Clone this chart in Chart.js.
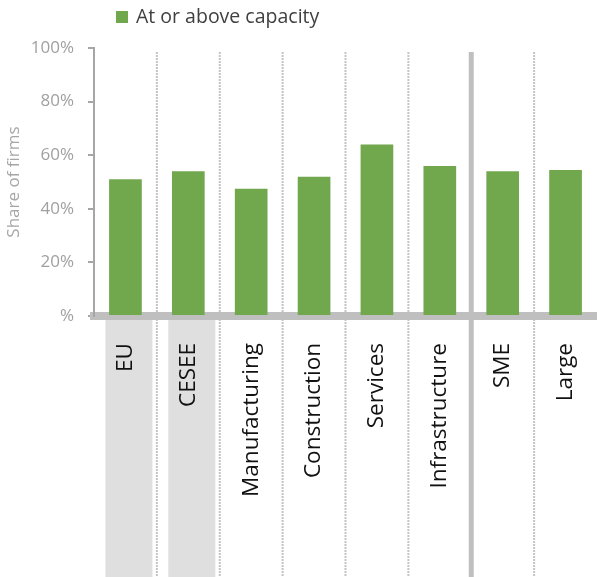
<!DOCTYPE html>
<html lang="en">
<head>
    <meta charset="UTF-8">
    <title>Share of firms at or above capacity</title>
    <script src="https://cdn.jsdelivr.net/npm/chart.js"></script>
    <style>
        html, body { margin: 0; padding: 0; background: #fff; }
        #wrap { width: 597px; height: 577px; }
    </style>
</head>
<body>
    <div id="wrap"><canvas id="myChart" width="597" height="577"></canvas></div>
    <script>
        // données
        var categories = ['EU', 'CESEE', 'Manufacturing', 'Construction', 'Services', 'Infrastructure', 'SME', 'Large'];
        var atOrAboveCapacity = [51, 54, 47.5, 52, 64, 56, 54, 54.5];
        var seriesLabel = 'At or above capacity';
        var yTitle = 'Share of firms';
        var shadedCategories = ['EU', 'CESEE'];
        var solidAfter = 'Infrastructure';

        var green = '#71a84e';
        var fontName = "'Open Sans', 'Noto Sans', sans-serif";

        // separateurs verticaux et fonds gris derriere EU / CESEE
        var separators = {
            id: 'separators',
            beforeDraw: function(chart) {
                var ctx = chart.ctx;
                var x = chart.scales.x;
                var bottom = chart.height;
                ctx.save();
                shadedCategories.forEach(function(c) {
                    var px = x.getPixelForValue(categories.indexOf(c));
                    ctx.fillStyle = '#dfdfdf';
                    ctx.fillRect(px - 20, chart.chartArea.bottom + 4, 47, bottom);
                });
                for (var i = 0; i < categories.length - 1; i++) {
                    var bx = (x.getPixelForValue(i) + x.getPixelForValue(i + 1)) / 2;
                    ctx.beginPath();
                    if (categories[i] === solidAfter) {
                        ctx.setLineDash([]);
                        ctx.lineWidth = 5;
                        ctx.strokeStyle = '#bfbfbf';
                    } else {
                        ctx.setLineDash([2, 1]);
                        ctx.lineWidth = 2;
                        ctx.strokeStyle = '#c4c4c4';
                    }
                    ctx.moveTo(bx, chart.chartArea.top + 4);
                    ctx.lineTo(bx, bottom);
                    ctx.stroke();
                }
                ctx.restore();
            }
        };

        // legende dessinee a la main (position fixe)
        var legendBox = {
            id: 'legendBox',
            afterDraw: function(chart) {
                var ctx = chart.ctx;
                ctx.save();
                ctx.fillStyle = green;
                ctx.fillRect(116, 11, 12, 12);
                ctx.fillStyle = '#404040';
                ctx.font = '19.5px ' + fontName;
                ctx.textBaseline = 'middle';
                ctx.fillText(seriesLabel, 136, 17);
                ctx.restore();
            }
        };

        var ctx = document.getElementById('myChart').getContext('2d');
        var myChart = new Chart(ctx, {
            type: 'bar',
            data: {
                labels: categories,
                datasets: [{
                    label: seriesLabel,
                    data: atOrAboveCapacity,
                    backgroundColor: green,
                    borderWidth: 0,
                    barPercentage: 0.52,
                    categoryPercentage: 1
                }]
            },
            options: {
                responsive: false,
                animation: false,
                layout: { padding: { top: 48, right: 0, left: 0, bottom: 0 } },
                plugins: {
                    legend: { display: false },
                    tooltip: { enabled: false }
                },
                scales: {
                    x: {
                        afterFit: function(scale) {
                            scale.height = 261;
                            scale.paddingLeft = 0;
                            scale.paddingRight = 0;
                        },
                        grid: { display: false, drawTicks: false },
                        border: { display: true, color: '#bfbfbf', width: 8 },
                        ticks: {
                            minRotation: 90,
                            maxRotation: 90,
                            autoSkip: false,
                            padding: 27,
                            color: '#111111',
                            font: { family: fontName, size: 22.5 }
                        }
                    },
                    y: {
                        min: 0,
                        max: 100,
                        afterFit: function(scale) { scale.width = 94; },
                        grid: {
                            drawOnChartArea: false,
                            drawTicks: true,
                            tickLength: 6,
                            color: '#a6a6a6',
                            lineWidth: 2
                        },
                        border: { display: true, color: '#a6a6a6', width: 2 },
                        ticks: {
                            stepSize: 20,
                            padding: 14,
                            color: '#a0a0a0',
                            font: { family: fontName, size: 17 },
                            callback: function(v) { return v === 0 ? '%' : v + '%'; }
                        },
                        title: {
                            display: true,
                            text: yTitle,
                            color: '#a6a6a6',
                            font: { family: fontName, size: 17 },
                            padding: 4
                        }
                    }
                }
            },
            plugins: [separators, legendBox]
        });
    </script>
</body>
</html>
